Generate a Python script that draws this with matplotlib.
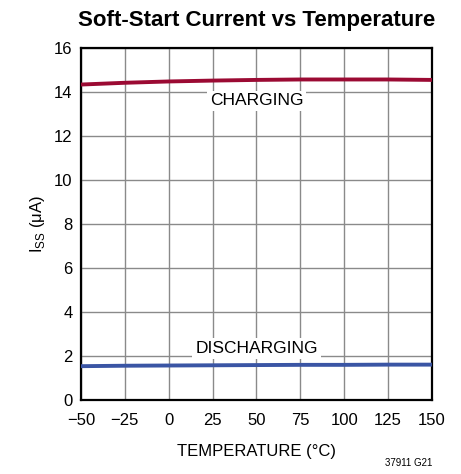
import numpy as np
import matplotlib
matplotlib.use("Agg")
import matplotlib.pyplot as plt

# data
temp = [-50, -25, 0, 25, 50, 75, 100, 125, 150]
i_charge = [14.34, 14.42, 14.48, 14.52, 14.55, 14.57, 14.57, 14.57, 14.55]
i_discharge = [1.54, 1.56, 1.57, 1.58, 1.59, 1.60, 1.60, 1.61, 1.61]
xticks = [-50, -25, 0, 25, 50, 75, 100, 125, 150]
xlabels = ["\u221250", "\u221225", "0", "25", "50", "75", "100", "125", "150"]
yticks = [0, 2, 4, 6, 8, 10, 12, 14, 16]

plt.rcParams["font.family"] = ["Liberation Sans Narrow", "Liberation Sans", "DejaVu Sans"]

fig = plt.figure(figsize=(4.61, 4.74), dpi=100)
ax = fig.add_axes([0.1757, 0.156, 0.937 - 0.1757, 0.8987 - 0.156])

ax.plot(temp, i_charge, color="#9b0a33", lw=2.8, solid_capstyle="butt", zorder=3)
ax.plot(temp, i_discharge, color="#3a55a4", lw=2.8, solid_capstyle="butt", zorder=3)

ax.set_xlim(-50, 150)
ax.set_ylim(0, 16)
ax.set_xticks(xticks, labels=xlabels)
ax.set_yticks(yticks)
ax.tick_params(length=0, labelsize=12)
ax.tick_params(axis="x", pad=9)
ax.tick_params(axis="y", pad=6)
ax.grid(True, color="#8a8a8a", lw=1.0)
ax.set_axisbelow(True)
for s in ax.spines.values():
    s.set_linewidth(1.6)

bb = dict(facecolor="white", edgecolor="none", pad=2)
ax.text(50, 13.6, "CHARGING", ha="center", va="center", fontsize=12.5, bbox=bb, zorder=2)
ax.text(50, 2.35, "DISCHARGING", ha="center", va="center", fontsize=12.5, bbox=bb, zorder=2)

ax.set_xlabel("TEMPERATURE (\u00b0C)", fontsize=12, labelpad=12)
ax.set_ylabel("I$_{\\mathregular{SS}}$ (\u03bcA)", fontsize=12, labelpad=5)
ax.set_title("Soft-Start Current vs Temperature", fontsize=16, fontweight="bold", pad=16)

fig.text(0.937, 0.0125, "37911 G21", ha="right", va="bottom", fontsize=7)

fig.savefig("out.png", dpi=100)
